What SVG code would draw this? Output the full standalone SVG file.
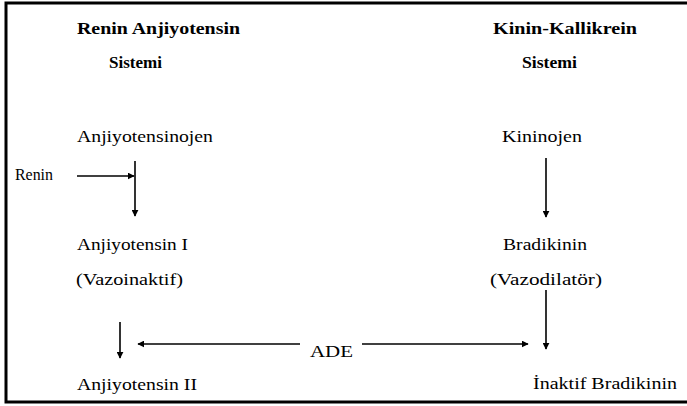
<svg xmlns="http://www.w3.org/2000/svg" width="687" height="406" viewBox="0 0 687 406">
<style>
text{font-family:"Liberation Serif","Times New Roman",serif;font-size:17px;fill:#000}
.h{font-weight:bold}
.c{stroke:#000;stroke-width:1.6;fill:none}
</style>
<defs>
<marker id="ah" viewBox="0 0 10 10" refX="9" refY="5" markerWidth="7" markerHeight="7" markerUnits="userSpaceOnUse" orient="auto"><path d="M0,0 L10,5 L0,10 z" fill="#000"/></marker>
</defs>
<rect x="0" y="0" width="687" height="406" fill="#fff"/>
<path d="M690,3 H6 V402 H690" fill="none" stroke="#000" stroke-width="3"/>
<g id="ras-title"><text class="h" x="77" y="34" textLength="163" lengthAdjust="spacingAndGlyphs">Renin Anjiyotensin</text><text class="h" x="109" y="68" textLength="53" lengthAdjust="spacingAndGlyphs">Sistemi</text></g>
<g id="kks-title"><text class="h" x="493" y="34" textLength="144" lengthAdjust="spacingAndGlyphs">Kinin-Kallikrein</text><text class="h" x="522" y="68" textLength="55" lengthAdjust="spacingAndGlyphs">Sistemi</text></g>
<g id="anjiyotensinojen"><text x="77" y="142" textLength="136" lengthAdjust="spacingAndGlyphs">Anjiyotensinojen</text></g>
<g id="renin"><text x="15" y="180" textLength="38" lengthAdjust="spacingAndGlyphs">Renin</text></g>
<g id="kininojen"><text x="502" y="142" textLength="80" lengthAdjust="spacingAndGlyphs">Kininojen</text></g>
<g id="anjiyotensin1"><text x="77" y="250" textLength="111" lengthAdjust="spacingAndGlyphs">Anjiyotensin I</text><text x="76" y="285" textLength="107" lengthAdjust="spacingAndGlyphs">(Vazoinaktif)</text></g>
<g id="bradikinin"><text x="503" y="250" textLength="84" lengthAdjust="spacingAndGlyphs">Bradikinin</text><text x="490" y="285" textLength="112" lengthAdjust="spacingAndGlyphs">(Vazodilatör)</text></g>
<g id="ade"><text x="310" y="357" textLength="43" lengthAdjust="spacingAndGlyphs">ADE</text></g>
<g id="anjiyotensin2"><text x="77" y="390" textLength="120" lengthAdjust="spacingAndGlyphs">Anjiyotensin II</text></g>
<g id="inaktif-bradikinin"><text x="533" y="389" textLength="144" lengthAdjust="spacingAndGlyphs">İnaktif Bradikinin</text></g>
<g id="connectors">
<line class="c" x1="77" y1="176" x2="134" y2="176" marker-end="url(#ah)"/>
<line class="c" x1="135" y1="161" x2="135" y2="216" marker-end="url(#ah)"/>
<line class="c" x1="546" y1="158" x2="546" y2="217" marker-end="url(#ah)"/>
<line class="c" x1="546" y1="290" x2="546" y2="349" marker-end="url(#ah)"/>
<line class="c" x1="120" y1="322" x2="120" y2="358" marker-end="url(#ah)"/>
<line class="c" x1="300" y1="344" x2="138" y2="344" marker-end="url(#ah)"/>
<line class="c" x1="362" y1="344" x2="528" y2="344" marker-end="url(#ah)"/>
</g>
</svg>
